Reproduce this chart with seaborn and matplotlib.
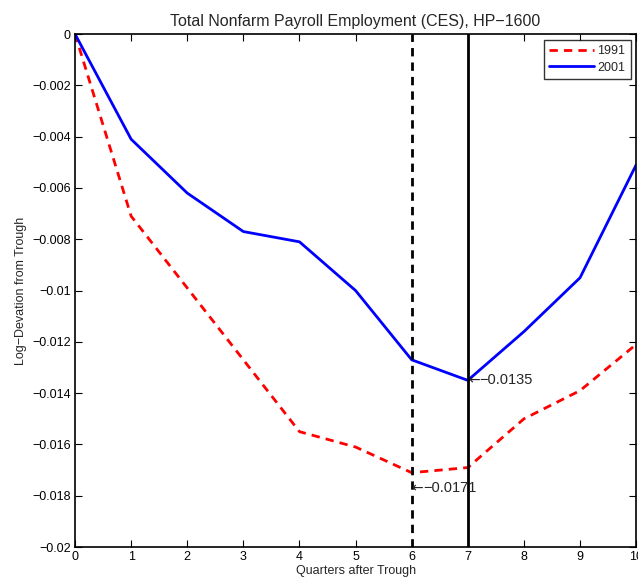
import matplotlib
matplotlib.use("Agg")
import matplotlib.pyplot as plt
import matplotlib.transforms as mtransforms
import seaborn as sns
import pandas as pd

quarters = [0, 1, 2, 3, 4, 5, 6, 7, 8, 9, 10]
y1991 = [0.0, -0.0071, -0.0099, -0.0127, -0.0155, -0.0161, -0.0171, -0.0169, -0.0150, -0.0139, -0.0121]
y2001 = [0.0, -0.0041, -0.0062, -0.0077, -0.0081, -0.0100, -0.0127, -0.0135, -0.0116, -0.0095, -0.0051]
yticks = [0, -0.002, -0.004, -0.006, -0.008, -0.01, -0.012, -0.014, -0.016, -0.018, -0.02]
ytick_labels = ["0", "−0.002", "−0.004", "−0.006", "−0.008", "−0.01", "−0.012", "−0.014", "−0.016", "−0.018", "−0.02"]
xticks = [0, 1, 2, 3, 4, 5, 6, 7, 8, 9, 10]
trough_1991_x, trough_1991_y = 6, -0.0171
trough_2001_x, trough_2001_y = 7, -0.0135
label_1991 = "−0.0171"
label_2001 = "−0.0135"

sns.set_style("white")
plt.rcParams['font.family'] = ['Liberation Sans', 'DejaVu Sans']

fig = plt.figure(figsize=(6.38, 5.87), dpi=100)
ax = fig.add_axes([0.1176, 0.068, 0.8795, 0.874])

df = pd.DataFrame({"q": quarters + quarters,
                   "v": y1991 + y2001,
                   "s": ["1991"] * len(quarters) + ["2001"] * len(quarters)})
sns.lineplot(data=df, x="q", y="v", hue="s", style="s",
             palette={"1991": "red", "2001": "blue"},
             dashes={"1991": (3, 2.2), "2001": ""},
             linewidth=2, ax=ax, legend=True)

ax.axvline(trough_1991_x, color="black", linestyle=(0, (3, 2.2)), linewidth=2)
ax.axvline(trough_2001_x, color="black", linestyle="-", linewidth=2)


def arrow_label(x, y, text):
    ax.text(x, y, "←", ha="left", va="center", fontsize=10,
            family=['DejaVu Sans'])
    off = mtransforms.offset_copy(ax.transData, fig=fig, x=8.2, y=0, units="points")
    ax.text(x, y, text, ha="left", va="center", fontsize=10.5,
            family=['Liberation Sans', 'DejaVu Sans'], transform=off)


arrow_label(trough_2001_x, trough_2001_y, label_2001)
arrow_label(trough_1991_x, trough_1991_y - 0.0006, label_1991)

ax.set_xlim(0, 10)
ax.set_ylim(-0.02, 0)
ax.set_xticks(xticks)
ax.set_xticklabels([str(x) for x in xticks])
ax.set_yticks(yticks)
ax.set_yticklabels(ytick_labels)
ax.tick_params(direction="in", length=5, width=0.8, labelsize=9, top=True, right=True,
               bottom=True, left=True, colors="black", pad=3)
for sp in ax.spines.values():
    sp.set_visible(True)
    sp.set_color("black")
    sp.set_linewidth(1.2)

ax.set_title("Total Nonfarm Payroll Employment (CES), HP−1600", fontsize=11.5, pad=6)
ax.set_xlabel("Quarters after Trough", fontsize=9, labelpad=1)
ax.set_ylabel("Log−Devation from Trough", fontsize=9, labelpad=4)

leg = ax.legend(loc="upper right", fontsize=9, frameon=True, fancybox=False,
                handlelength=3.6, borderaxespad=0.45, borderpad=0.45, labelspacing=0.35,
                handletextpad=0.2)
leg.get_frame().set_edgecolor("black")
leg.get_frame().set_linewidth(1.0)
leg.set_title(None)

fig.savefig("out.png", dpi=100)
